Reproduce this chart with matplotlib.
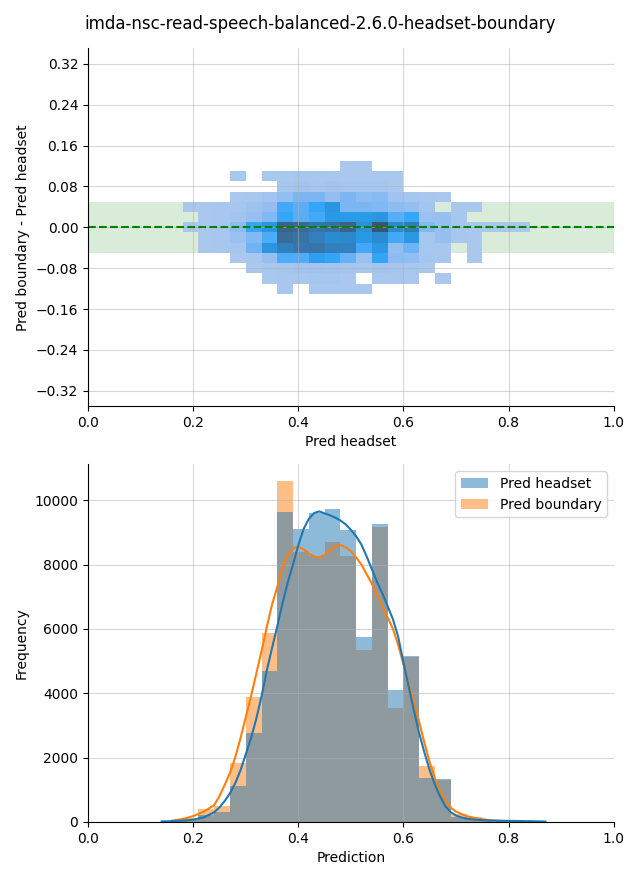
import numpy as np
import matplotlib
matplotlib.use('Agg')
import matplotlib.pyplot as plt
import seaborn as sns
from matplotlib.patches import Patch

title = 'imda-nsc-read-speech-balanced-2.6.0-headset-boundary'

# --- top panel: 2d histogram of headset vs (boundary - headset) ---
diff_x_edges = np.round(np.arange(0.18, 0.8401, 0.03), 2)
diff_y_edges = np.round(np.arange(-0.13, 0.1301, 0.02), 2)
# rows from top (0.11..0.13) down to (-0.13..-0.11), columns from x=0.18 in steps of 0.03
diff_counts = [
    [0, 0, 0, 0, 0, 0, 0, 0, 0, 0, 1, 1, 0, 0, 0, 0, 0, 0, 0, 0, 0, 0],
    [0, 0, 0, 1, 0, 1, 1, 2, 2, 2, 1, 1, 1, 1, 0, 0, 0, 0, 0, 0, 0, 0],
    [0, 0, 0, 0, 0, 0, 3, 4, 3, 4, 3, 3, 3, 1, 0, 0, 0, 0, 0, 0, 0, 0],
    [0, 0, 0, 1, 2, 4, 10, 17, 17, 10, 17, 12, 14, 5, 3, 2, 1, 0, 0, 0, 0, 0],
    [1, 1, 2, 3, 6, 10, 30, 25, 33, 45, 17, 17, 16, 12, 9, 4, 0, 1, 1, 0, 0, 0],
    [0, 1, 2, 4, 8, 15, 32, 26, 30, 44, 42, 42, 45, 26, 32, 7, 8, 2, 0, 0, 0, 0],
    [1, 1, 2, 12, 33, 45, 88, 82, 72, 76, 88, 50, 100, 55, 68, 16, 8, 2, 1, 1, 1, 1],
    [0, 1, 2, 7, 15, 28, 80, 74, 64, 55, 56, 43, 55, 30, 44, 2, 8, 2, 1, 0, 0, 0],
    [0, 1, 2, 3, 20, 45, 64, 70, 73, 63, 62, 30, 44, 10, 20, 2, 2, 0, 1, 0, 0, 0],
    [0, 0, 0, 1, 2, 8, 28, 27, 38, 33, 22, 6, 33, 12, 10, 3, 2, 0, 1, 0, 0, 0],
    [0, 0, 0, 0, 1, 2, 3, 4, 5, 4, 3, 2, 4, 3, 2, 1, 0, 0, 0, 0, 0, 0],
    [0, 0, 0, 0, 0, 1, 2, 2, 3, 3, 1, 0, 2, 2, 1, 0, 1, 0, 0, 0, 0, 0],
    [0, 0, 0, 0, 0, 0, 1, 0, 1, 1, 1, 1, 0, 0, 0, 0, 0, 0, 0, 0, 0, 0],
]

# --- bottom panel: histograms of both predictions (bin width 0.03) ---
hist_edges = np.round(np.arange(0.12, 0.8701, 0.03), 2)
headset_counts = [10, 30, 70, 230, 320, 1120, 2770, 4690, 9630, 9100, 9600, 9720,
                  9070, 5750, 9260, 4100, 5150, 1380, 1340, 150, 60, 30, 20, 15, 10]
boundary_counts = [0, 20, 130, 400, 500, 1820, 3870, 5870, 10590, 8395, 8250, 8700,
                   8260, 5330, 9160, 3540, 5130, 1750, 1290, 250, 160, 30, 10, 0, 0]

# density curves
kde_headset_x = [0.14, 0.16, 0.18, 0.20, 0.22, 0.24, 0.25, 0.26, 0.27, 0.28, 0.29,
                 0.30, 0.31, 0.32, 0.33, 0.34, 0.35, 0.36, 0.37, 0.38, 0.39, 0.40,
                 0.41, 0.42, 0.43, 0.44, 0.45, 0.46, 0.47, 0.48, 0.49, 0.50, 0.51,
                 0.52, 0.53, 0.54, 0.55, 0.56, 0.57, 0.58, 0.59, 0.60, 0.61, 0.62,
                 0.63, 0.64, 0.65, 0.66, 0.67, 0.68, 0.69, 0.70, 0.71, 0.72, 0.74,
                 0.76, 0.78, 0.80, 0.82, 0.84, 0.87]
kde_headset_y = [15, 25, 40, 70, 140, 300, 450, 650, 890, 1200, 1600,
                 2100, 2600, 3200, 3900, 4700, 5400, 6080, 6800, 7450, 8000, 8600,
                 9100, 9420, 9600, 9650, 9590, 9530, 9460, 9370, 9250, 9080, 8880,
                 8620, 8250, 7850, 7450, 7100, 6700, 6300, 5750, 4950, 4200, 3450,
                 2750, 2150, 1600, 1150, 780, 480, 300, 200, 140, 100, 65,
                 45, 38, 33, 28, 22, 12]
kde_boundary_x = [0.16, 0.18, 0.20, 0.22, 0.24, 0.25, 0.26, 0.27, 0.28, 0.29, 0.30,
                  0.31, 0.32, 0.33, 0.34, 0.35, 0.36, 0.37, 0.38, 0.39, 0.40, 0.41,
                  0.42, 0.43, 0.44, 0.45, 0.46, 0.47, 0.48, 0.49, 0.50, 0.51, 0.52,
                  0.53, 0.54, 0.55, 0.56, 0.57, 0.58, 0.59, 0.60, 0.61, 0.62, 0.63,
                  0.64, 0.65, 0.66, 0.67, 0.68, 0.69, 0.70, 0.72, 0.74, 0.76, 0.78,
                  0.80]
kde_boundary_y = [40, 90, 180, 320, 520, 800, 1150, 1520, 2000, 2600, 3250,
                  3900, 4600, 5300, 6050, 6750, 7300, 7900, 8300, 8500, 8550, 8470,
                  8340, 8250, 8220, 8300, 8420, 8550, 8600, 8540, 8420, 8220, 8000,
                  7700, 7400, 7050, 6700, 6350, 6000, 5500, 4900, 4300, 3700, 3100,
                  2450, 1850, 1350, 950, 650, 440, 320, 180, 110, 60, 35,
                  20]

fig, (ax1, ax2) = plt.subplots(2, 1, figsize=(6.4, 8.8), dpi=100)
fig.subplots_adjust(left=0.1375, right=0.959, top=0.945, bottom=0.066, hspace=0.162)
fig.suptitle(title, fontsize=12, y=0.983)

# top
xc = (diff_x_edges[:-1] + diff_x_edges[1:]) / 2
yc = (diff_y_edges[:-1] + diff_y_edges[1:]) / 2
counts = np.array(diff_counts)[::-1]  # now row 0 is the lowest y bin
gx, gy = np.meshgrid(xc, yc)
sns.histplot(x=gx.ravel(), y=gy.ravel(), weights=counts.ravel(),
             bins=(diff_x_edges, diff_y_edges), ax=ax1)
ax1.axhspan(-0.05, 0.05, color='green', alpha=0.15, linewidth=0, zorder=0)
ax1.axhline(0, color='green', linestyle='--', linewidth=1.5)
ax1.set_xlim(0, 1)
ax1.set_ylim(-0.35, 0.35)
ax1.set_yticks(np.round(np.arange(-0.32, 0.33, 0.08), 2))
ax1.set_xlabel('Pred headset')
ax1.set_ylabel('Pred boundary - Pred headset')
ax1.grid(True, color='#b0b0b0', alpha=0.5, linewidth=0.8)

# bottom
centers = (hist_edges[:-1] + hist_edges[1:]) / 2
ax2.hist(centers, bins=hist_edges, weights=boundary_counts, color='C1', alpha=0.5)
ax2.hist(centers, bins=hist_edges, weights=headset_counts, color='C0', alpha=0.5)
ax2.plot(kde_boundary_x, kde_boundary_y, color='C1', linewidth=1.5)
ax2.plot(kde_headset_x, kde_headset_y, color='C0', linewidth=1.5)
ax2.set_xlim(0, 1)
ax2.set_xlabel('Prediction')
ax2.set_ylabel('Frequency')
ax2.grid(True, color='#b0b0b0', alpha=0.5, linewidth=0.8)
ax2.legend(handles=[Patch(facecolor='C0', alpha=0.5, label='Pred headset'),
                    Patch(facecolor='C1', alpha=0.5, label='Pred boundary')],
           loc='upper right')

for ax in (ax1, ax2):
    ax.spines['top'].set_visible(False)
    ax.spines['right'].set_visible(False)

fig.savefig('out.png', dpi=100)
